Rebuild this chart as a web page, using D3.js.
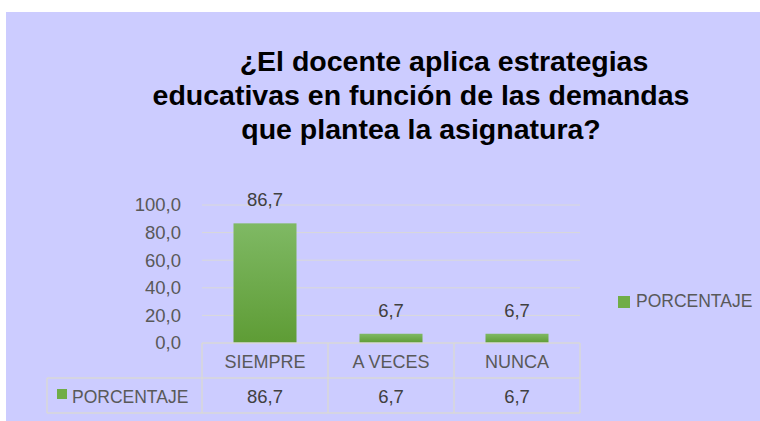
<!DOCTYPE html>
<html>
<head>
<meta charset="utf-8">
<script src="https://cdnjs.cloudflare.com/ajax/libs/d3/7.8.5/d3.min.js"></script>
<style>
  body { margin: 0; background: #fff; }
  svg { display: block; font-family: "Liberation Sans", Arial, sans-serif; }
</style>
</head>
<body>
<div id="chart"></div>
<script>
// data
let categories = ["SIEMPRE", "A VECES", "NUNCA"];
let values = [86.7, 6.7, 6.7];
let seriesName = "PORCENTAJE";
let yTicks = [0, 20, 40, 60, 80, 100];
let titleLines = ["¿El docente aplica estrategias", "educativas en función de las demandas", "que plantea la asignatura?"];

let W = 760, H = 421;
let fmt = d => d3.format(".1f")(d).replace(".", ",");

let svg = d3.select("#chart").append("svg")
    .attr("width", W).attr("height", H);

// background
svg.append("rect").attr("x", 6).attr("y", 12).attr("width", W - 6).attr("height", H - 12)
    .attr("fill", "#ccccff");

let defs = svg.append("defs");
let grad = defs.append("linearGradient").attr("id", "barGrad")
    .attr("x1", 0).attr("y1", 0).attr("x2", 0).attr("y2", 1);
grad.append("stop").attr("offset", "0%").attr("stop-color", "#7fb964");
grad.append("stop").attr("offset", "100%").attr("stop-color", "#5e9c35");

// title (first line sits a bit to the right, like the original)
svg.append("text")
    .attr("x", 421).attr("y", 71)
    .attr("text-anchor", "middle")
    .style("font-size", "28.5px").style("font-weight", "bold").attr("fill", "#000")
    .selectAll("tspan").data(titleLines).enter().append("tspan")
    .attr("x", (d, i) => i === 0 ? 444 : 421).attr("dy", (d, i) => i === 0 ? 0 : 34)
    .text(d => d);

let plotLeft = 202, plotRight = 580, plotTop = 205, plotBottom = 343;

let x = d3.scaleBand().domain(categories).range([plotLeft, plotRight]).paddingInner(0.5).paddingOuter(0.25);
let xCell = d3.scaleBand().domain(categories).range([plotLeft, plotRight]);
let y = d3.scaleLinear().domain([0, 100]).range([plotBottom, plotTop]);

// gridlines
svg.append("g").selectAll("line").data(yTicks.slice(1)).enter().append("line")
    .attr("x1", plotLeft).attr("x2", plotRight)
    .attr("y1", d => y(d)).attr("y2", d => y(d))
    .attr("stroke", "#d9d9d9").attr("stroke-width", 1);

// y axis
let yAxis = svg.append("g").attr("transform", "translate(" + (plotLeft - 9) + ",0)")
    .call(d3.axisLeft(y).tickValues(yTicks).tickFormat(fmt).tickSize(0).tickPadding(12));
yAxis.select(".domain").remove();
yAxis.selectAll("text").style("font-size", "18.5px").attr("fill", "#595959")
    .attr("font-family", "Liberation Sans, Arial, sans-serif");

// bars
svg.append("g").selectAll("rect").data(values).enter().append("rect")
    .attr("x", (d, i) => x(categories[i]))
    .attr("y", d => y(d))
    .attr("width", x.bandwidth())
    .attr("height", d => y(0) - y(d))
    .attr("fill", "url(#barGrad)");

// value labels
svg.append("g").selectAll("text").data(values).enter().append("text")
    .attr("x", (d, i) => x(categories[i]) + x.bandwidth() / 2)
    .attr("y", d => y(d) - 17)
    .attr("text-anchor", "middle")
    .style("font-size", "18.5px").attr("fill", "#404040")
    .text(fmt);

// data table
let rowTop = plotBottom, rowMid = 378, rowBot = 413, tableLeft = 47;
let tbl = svg.append("g").attr("stroke", "#d9d9d9").attr("stroke-width", 1.5).attr("fill", "none");
tbl.append("line").attr("x1", plotLeft).attr("x2", plotRight).attr("y1", rowTop).attr("y2", rowTop);
tbl.append("line").attr("x1", tableLeft).attr("x2", plotRight).attr("y1", rowMid).attr("y2", rowMid);
tbl.append("line").attr("x1", tableLeft).attr("x2", plotRight).attr("y1", rowBot).attr("y2", rowBot);
tbl.append("line").attr("x1", tableLeft).attr("x2", tableLeft).attr("y1", rowMid).attr("y2", rowBot);
tbl.selectAll("line.v").data(categories.concat(["end"])).enter().append("line")
    .attr("x1", (d, i) => i < categories.length ? xCell(d) : plotRight)
    .attr("x2", (d, i) => i < categories.length ? xCell(d) : plotRight)
    .attr("y1", rowTop).attr("y2", rowBot);

svg.append("g").selectAll("text").data(categories).enter().append("text")
    .attr("x", d => xCell(d) + xCell.bandwidth() / 2)
    .attr("y", (rowTop + rowMid) / 2 + 7)
    .attr("text-anchor", "middle")
    .style("font-size", "18px").attr("fill", "#595959")
    .text(d => d);

svg.append("g").selectAll("text").data(values).enter().append("text")
    .attr("x", (d, i) => xCell(categories[i]) + xCell.bandwidth() / 2)
    .attr("y", (rowMid + rowBot) / 2 + 7)
    .attr("text-anchor", "middle")
    .style("font-size", "18.5px").attr("fill", "#404040")
    .text(fmt);

// table legend key
svg.append("rect").attr("x", 57).attr("y", 389).attr("width", 10).attr("height", 10).attr("fill", "#70ad47");
svg.append("text").attr("x", 72).attr("y", (rowMid + rowBot) / 2 + 7)
    .style("font-size", "17.5px").attr("fill", "#595959").text(seriesName);

// right legend
svg.append("rect").attr("x", 618).attr("y", 296).attr("width", 12).attr("height", 12).attr("fill", "#70ad47");
svg.append("text").attr("x", 636).attr("y", 307)
    .style("font-size", "17.5px").attr("fill", "#595959").text(seriesName);
</script>
</body>
</html>
